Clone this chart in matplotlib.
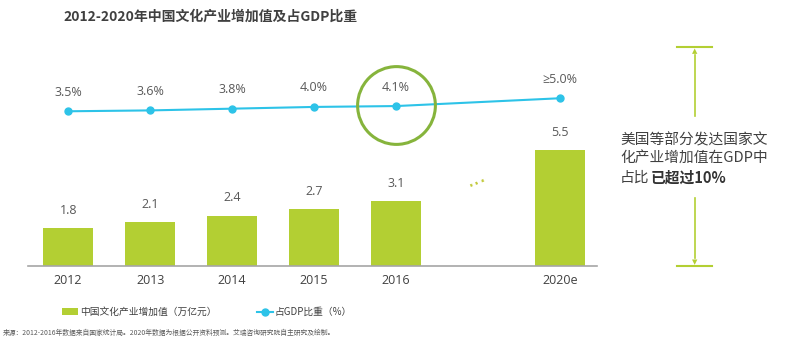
import numpy as np
import matplotlib
matplotlib.use("Agg")
import matplotlib.pyplot as plt

plt.rcParams['font.family'] = ['Noto Sans CJK SC', 'DejaVu Sans']

# data
years = ['2012', '2013', '2014', '2015', '2016', '2020e']
xpos = [0, 1, 2, 3, 4, 6]          # slot 5 is the gap with the dots
value_added = [1.8, 2.1, 2.4, 2.7, 3.1, 5.5]     # 万亿元
gdp_share = [3.5, 3.6, 3.8, 4.0, 4.1, 5.0]       # %
share_labels = ['3.5%', '3.6%', '3.8%', '4.0%', '4.1%', '≥5.0%']

bar_color = '#B3CF33'
line_color = '#2DC3E8'
circle_color = '#86B43C'
text_color = '#595959'
num_font = ['Open Sans', 'DejaVu Sans']

W, H = 803, 343
fig = plt.figure(figsize=(W / 100, H / 100), dpi=100)

# axes in pixel layout: x 28..597, y 40..266 (from top)
ax = fig.add_axes([28 / W, (H - 266) / H, (597 - 28) / W, (266 - 40) / H])
ax.bar(xpos, value_added, width=0.61, color=bar_color, zorder=2,
       label='中国文化产业增加值（万亿元）')
ax.set_xlim(-0.49, 6.45)
ax.set_ylim(0, 10.76)
for x, v in zip(xpos, value_added):
    ax.annotate(f'{v:.1f}', (x, v), xytext=(0, 8), textcoords='offset points',
                ha='center', va='bottom', fontsize=9, color=text_color,
                family=num_font)

for s in ['top', 'right', 'left']:
    ax.spines[s].set_visible(False)
ax.spines['bottom'].set_color('#A6A6A6')
ax.spines['bottom'].set_linewidth(1.2)
ax.set_yticks([])
ax.set_xticks(xpos)
ax.set_xticklabels(years, fontsize=9, color='#404040', family=num_font)
ax.tick_params(axis='x', length=0, pad=6)

# line on twin axis
ax2 = ax.twinx()
ax2.set_ylim(-14.3, 11.7)
ax2.plot(xpos, gdp_share, color=line_color, lw=1.5, marker='o', ms=5,
         zorder=3, label='占GDP比重（%）')
ax2.axis('off')
for x, v, lab in zip(xpos, gdp_share, share_labels):
    ax2.annotate(lab, (x, v), xytext=(0, 9), textcoords='offset points',
                 ha='center', va='bottom', fontsize=9, color=text_color,
                 family=num_font)

# highlight circle around 2016
ax2.plot([xpos[4]], [gdp_share[4] + 0.1], marker='o', ms=56, mfc='none',
         mec=circle_color, mew=2.2, zorder=4)

# dots in the gap
ax.text(5, 3.95, '···', rotation=22, ha='center', va='center',
        fontsize=15, color='#C2C93A', family=['DejaVu Sans'])

# title
fig.text(211 / W, 1 - 17 / H, '2012-2020年中国文化产业增加值及占GDP比重',
         ha='center', va='center', fontsize=10, fontweight='bold', color='#404040')

# legend
h1, l1 = ax.get_legend_handles_labels()
h2, l2 = ax2.get_legend_handles_labels()
fig.legend(h1 + h2, l1 + l2, loc='center', bbox_to_anchor=(207 / W, 1 - 312 / H),
           ncol=2, frameon=False, fontsize=7, columnspacing=4.2,
           handlelength=1.6, handletextpad=0.2, labelcolor='#404040')

# source
fig.text(3 / W, 1 - 333 / H,
         '来源：2012-2016年数据来自国家统计局。2020年数据为根据公开资料预测。艾瑞咨询研究院自主研究及绘制。',
         ha='left', va='center', fontsize=4.9, color='#595959')

# right side annotation
ax_x = 695 / W
for y in [47, 266]:
    fig.add_artist(plt.Line2D([677 / W, 712 / W], [1 - y / H, 1 - y / H],
                              color=bar_color, lw=1.5))
fig.add_artist(plt.Line2D([ax_x, ax_x], [1 - 55 / H, 1 - 116 / H], color=bar_color, lw=1.2))
fig.add_artist(plt.Line2D([ax_x, ax_x], [1 - 198 / H, 1 - 258 / H], color=bar_color, lw=1.2))
fig.text(ax_x, 1 - 48 / H, '▲', ha='center', va='top', fontsize=5, color=bar_color,
         family=['DejaVu Sans'])
fig.text(ax_x, 1 - 265 / H, '▼', ha='center', va='bottom', fontsize=5, color=bar_color,
         family=['DejaVu Sans'])

note_color = '#404040'
fig.text(620 / W, 1 - 140 / H, '美国等部分发达国家文', ha='left', va='center',
         fontsize=10.6, color=note_color)
fig.text(620 / W, 1 - 159 / H, '化产业增加值在GDP中', ha='left', va='center',
         fontsize=10.6, color=note_color)
t1 = fig.text(620 / W, 1 - 178 / H, '占比', ha='left', va='center',
              fontsize=10.6, color=note_color)
ax.annotate('已超过10%', xy=(1, 0.5), xycoords=t1, xytext=(0.5, 0),
            textcoords='offset points', ha='left', va='center',
            fontsize=10.6, fontweight='bold', color='#333333', annotation_clip=False)

fig.savefig('out.png', dpi=100)
